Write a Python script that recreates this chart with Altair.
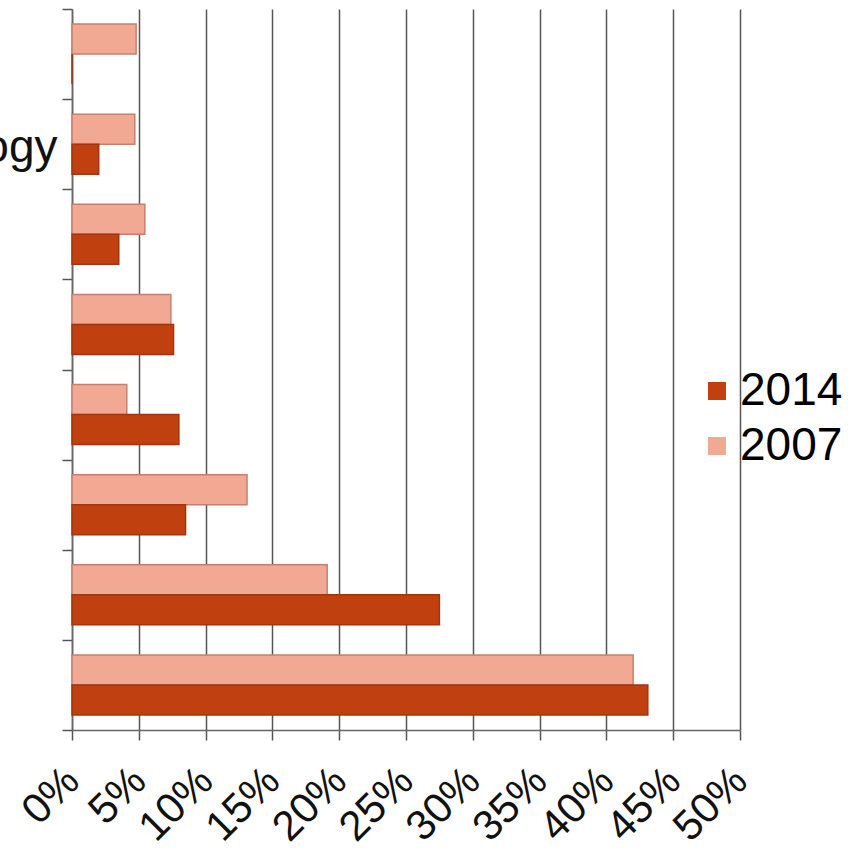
import altair as alt
import pandas as pd

# Categories (top to bottom); the crop only shows the tail "ogy" of the second label
row_index = [0, 1, 2, 3, 4, 5, 6, 7]
row_labels = ["", "ogy", "", "", "", "", "", ""]
share_2007 = [4.8, 4.7, 5.45, 7.4, 4.1, 13.1, 19.1, 42.0]
share_2014 = [0.0, 2.0, 3.5, 7.6, 8.0, 8.5, 27.5, 43.1]
legend_years = ["2014", "2007"]
x_tick_values = [0, 5, 10, 15, 20, 25, 30, 35, 40, 45, 50]

rows = []
for i, a, b in zip(row_index, share_2007, share_2014):
    rows.append({"row": i, "year": "2007", "share": a})
    rows.append({"row": i, "year": "2014", "share": b})
df = pd.DataFrame(rows)

label_js = "[" + ",".join("'" + s + "'" for s in row_labels) + "][datum.value]"

fill_scale = alt.Scale(domain=legend_years, range=["#C0400F", "#F2A994"])
stroke_scale = alt.Scale(domain=legend_years, range=["#A3340F", "#C4806C"])

chart = alt.Chart(df).mark_bar(strokeWidth=1.5).encode(
    x=alt.X(
        "share:Q",
        scale=alt.Scale(domain=[0, 50], nice=False, zero=True),
        axis=alt.Axis(
            values=x_tick_values,
            labelExpr="datum.value + '%'",
            labelAngle=-45,
            labelAlign="right",
            labelBaseline="middle",
            labelPadding=34,
            labelFontSize=42,
            labelColor="#111111",
            labelOverlap=False,
            labelFlush=False,
            tickSize=10,
            tickColor="#555555",
            tickWidth=1.5,
            grid=True,
            gridColor="#555555",
            gridWidth=1.5,
            domainColor="#666666",
            domainWidth=1.5,
            title=None,
        ),
    ),
    y=alt.Y(
        "row:O",
        scale=alt.Scale(paddingInner=0, paddingOuter=0),
        axis=alt.Axis(
            labelExpr=label_js,
            tickBand="extent",
            tickSize=10,
            tickColor="#555555",
            tickWidth=1.5,
            labelPadding=5,
            labelLimit=0,
            labelFontSize=46,
            labelOffset=3,
            labelColor="#111111",
            domainColor="#666666",
            domainWidth=1.5,
            title=None,
        ),
    ),
    yOffset=alt.YOffset(
        "year:N",
        sort=["2007", "2014"],
        scale=alt.Scale(paddingInner=0, paddingOuter=0.5),
    ),
    color=alt.Color(
        "year:N",
        scale=fill_scale,
        legend=alt.Legend(
            orient="none",
            legendX=607,
            legendY=359,
            title=None,
            symbolType="square",
            symbolSize=324,
            symbolStrokeWidth=0,
            symbolOffset=15,
            labelFontSize=46,
            labelColor="#000000",
            labelOffset=0,
            rowPadding=9,
        ),
    ),
    stroke=alt.Stroke("year:N", scale=stroke_scale, legend=None),
).properties(
    width=668,
    height=721,
    autosize=alt.AutoSizeParams(type="none"),
    padding={"left": 72, "top": 9, "right": 108, "bottom": 123},
).configure(
    font="Liberation Sans",
    background="white",
).configure_view(stroke=None)

chart.save("out.html", embed_options={"renderer": "svg", "actions": False})
